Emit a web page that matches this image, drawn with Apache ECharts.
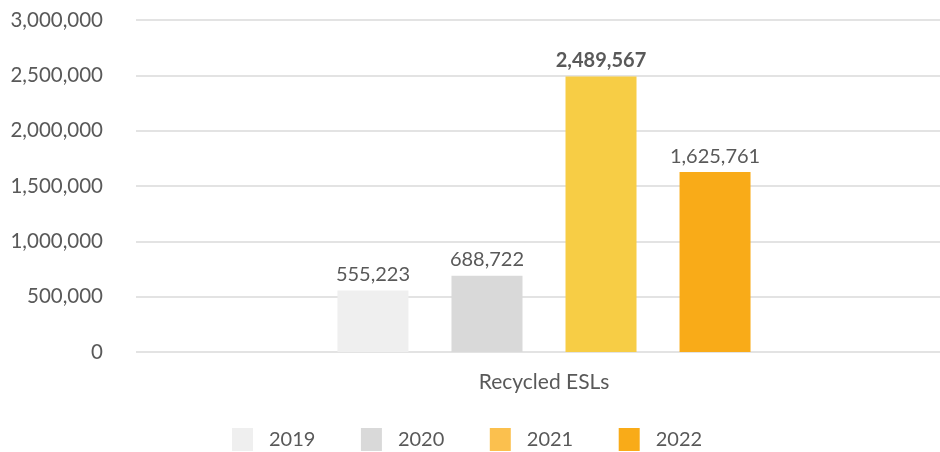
<!DOCTYPE html>
<html><head><meta charset="utf-8">
<script src="https://cdn.jsdelivr.net/npm/echarts@6/dist/echarts.min.js"></script>
<style>html,body{margin:0;padding:0;background:#fff}#c{width:940px;height:452px}</style>
</head><body><div id="c"></div>
<script>
const categories = ['Recycled ESLs'];
const years = ['2019', '2020', '2021', '2022'];
const values2019 = [555223];
const values2020 = [688722];
const values2021 = [2489567];
const values2022 = [1625761];
const yTicks = [0, 500000, 1000000, 1500000, 2000000, 2500000, 3000000];

const barColors = ['#efefef', '#d9d9d9', '#f7cd45', '#f9ab18'];
const legendColors = ['#efefef', '#d9d9d9', '#fbc04e', '#f9ab18'];
const seriesValues = [values2019, values2020, values2021, values2022];
const fmt = v => v.toLocaleString('en-US');

const chart = echarts.init(document.getElementById('c'), null, {renderer: 'canvas'});
chart.setOption({
  animation: false,
  textStyle: {fontFamily: 'Lato'},
  grid: {left: 136, width: 816, top: 20, bottom: 100, outerBoundsMode: 'none', containLabel: false},
  legend: {
    top: 428, left: 232, padding: 0,
    itemWidth: 21, itemHeight: 23, itemGap: 45.5,
    icon: 'rect',
    textStyle: {fontFamily: 'Lato', fontSize: 20, color: '#595959', padding: [0, 0, 0, 11]},
    data: years.map((y, i) => ({name: y, itemStyle: {color: legendColors[i]}}))
  },
  xAxis: {
    type: 'category', data: categories,
    axisLine: {show: false}, axisTick: {show: false},
    axisLabel: {fontFamily: 'Lato', fontSize: 21, color: '#595959', margin: 20}
  },
  yAxis: {
    type: 'value', min: yTicks[0], max: yTicks[yTicks.length - 1], interval: 500000,
    axisLine: {show: false}, axisTick: {show: false},
    splitLine: {lineStyle: {color: '#e3e3e3', width: 2}},
    axisLabel: {fontFamily: 'Lato', fontSize: 20.5, color: '#595959', margin: 33, formatter: fmt}
  },
  series: years.map((y, i) => ({
    name: y, type: 'bar', data: seriesValues[i],
    barWidth: 71, barGap: '60.6%',
    itemStyle: {color: barColors[i]},
    label: {
      show: true, position: 'top', distance: 6,
      fontFamily: 'Lato', fontSize: 20, color: '#595959',
      fontWeight: i === 2 ? 'bold' : 'normal',
      formatter: p => fmt(p.value)
    }
  }))
});
</script></body></html>
